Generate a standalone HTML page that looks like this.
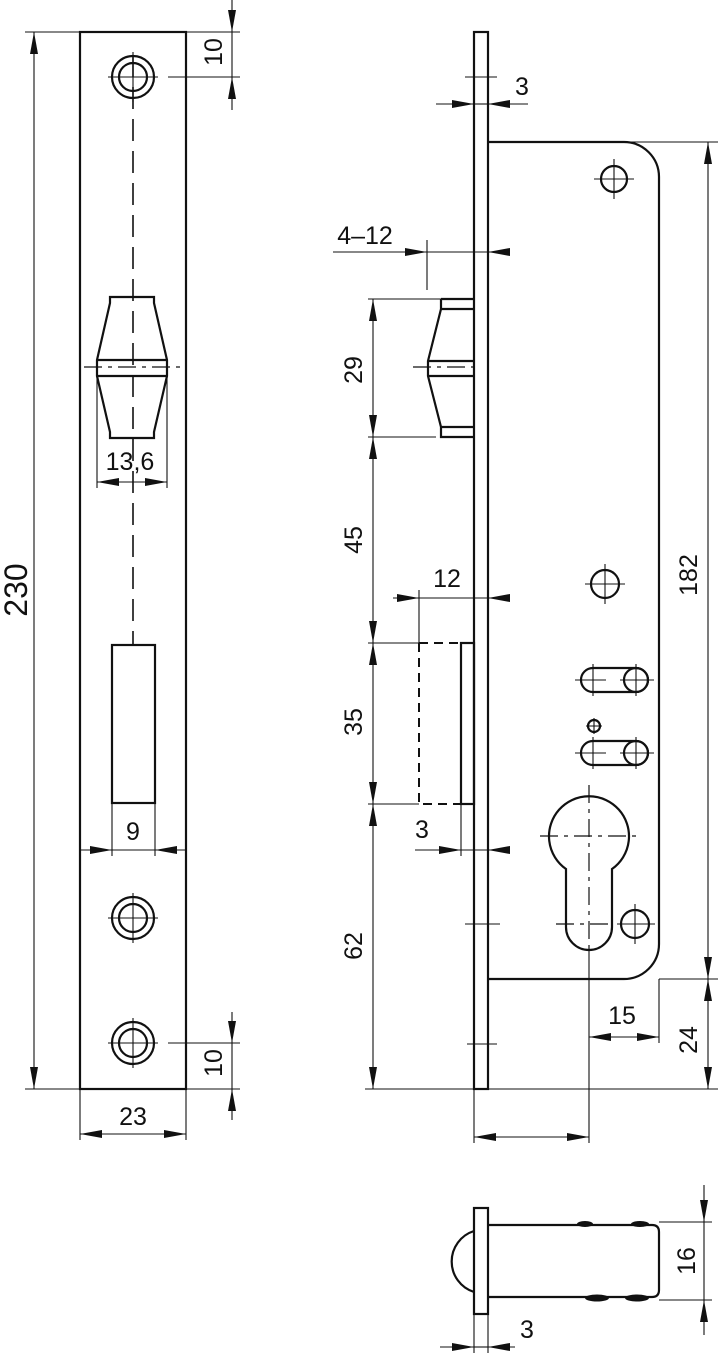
<!DOCTYPE html>
<html><head><meta charset="utf-8"><style>
html,body{margin:0;padding:0;background:#fff}
svg{display:block}
text{font-family:"Liberation Sans",sans-serif;font-size:25px;fill:#111}
</style></head><body>
<svg width="720" height="1355" viewBox="0 0 720 1355" xmlns="http://www.w3.org/2000/svg">
<defs>
<marker id="a" viewBox="0 0 22 8" refX="22" refY="4" markerWidth="22" markerHeight="8" markerUnits="userSpaceOnUse" orient="auto-start-reverse"><path d="M0,0 L22,4 L0,8 z" fill="#111"/></marker>
</defs>
<g fill="none" stroke="#111" stroke-width="2.2">
<rect x="80" y="32" width="106" height="1057"/>
<circle cx="133" cy="77" r="21"/><circle cx="133" cy="77" r="14"/>
<circle cx="133" cy="918" r="21"/><circle cx="133" cy="918" r="14"/>
<circle cx="133" cy="1043" r="21"/><circle cx="133" cy="1043" r="14"/>
<path d="M110,297 L154,297 L154,303 L167,360 L167,376 L154,432 L154,438 L110,438 L110,432 L97,376 L97,360 L110,303 Z"/>
<line x1="97" y1="360" x2="167" y2="360"/><line x1="97" y1="376" x2="167" y2="376"/>
<rect x="112" y="645" width="43" height="158"/>
<rect x="474" y="32" width="14" height="1057"/>
<path d="M488,142 L624,142 A35,35 0 0 1 659,177 L659,944 A35,35 0 0 1 624,979 L488,979"/>
<circle cx="614" cy="179" r="13"/>
<circle cx="605" cy="584" r="14"/>
<rect x="581" y="668" width="67" height="24" rx="12"/>
<circle cx="636" cy="680" r="12"/>
<rect x="581" y="741" width="67" height="24" rx="12"/>
<circle cx="636" cy="753" r="12"/>
<circle cx="594" cy="726" r="6"/>
<circle cx="635" cy="924" r="14"/>
<path d="M566,869 A40,40 0 1 1 612,869 L612,927 A23,23 0 0 1 566,927 Z"/>
<path d="M441,299 L474,299 M441,309 L474,309 M441,299 L441,309 L428,361 L428,376 L441,427 L441,437 L474,437 M441,427 L474,427 M428,361 L474,361 M428,376 L474,376"/>
<rect x="461" y="643" width="13" height="161"/>
<rect x="474" y="1208" width="14" height="106"/>
<path d="M488,1225 L652,1225 Q659,1225 659,1232 L659,1290 Q659,1297 652,1297 L488,1297"/>
<path d="M474,1231 A32,32 0 0 0 474,1292"/>
</g>
<g fill="#111">
<ellipse cx="585" cy="1224" rx="8" ry="3"/><ellipse cx="640" cy="1224" rx="9" ry="3"/>
<ellipse cx="597" cy="1298" rx="12" ry="3.5"/><ellipse cx="637" cy="1298" rx="12" ry="3.5"/>
</g>
<g fill="none" stroke="#111" stroke-width="1.6" stroke-dasharray="22,10">
<line x1="133" y1="55" x2="133" y2="645"/>
</g>
<g fill="none" stroke="#111" stroke-width="2" stroke-dasharray="9,6">
<path d="M419,643 L461,643 M419,643 L419,804 L461,804"/>
</g>
<g fill="none" stroke="#111" stroke-width="1.2" stroke-dasharray="18,6,4,6">
<line x1="84" y1="367" x2="182" y2="367"/>
<line x1="413" y1="367" x2="481" y2="367"/>
<line x1="540" y1="836" x2="642" y2="836"/>
<line x1="589" y1="785" x2="589" y2="950"/>
<line x1="556" y1="924" x2="610" y2="924"/>
</g>
<g fill="none" stroke="#111" stroke-width="1.1">
<path d="M108,77 H158 M133,52 V102 M108,918 H158 M133,893 V943 M108,1043 H158 M133,1018 V1068"/>
<path d="M594,179 H634 M614,159 V199 M585,584 H625 M605,564 V604"/>
<path d="M575,680 H606 M593,664 V696 M620,680 H654 M636,664 V696"/>
<path d="M575,753 H606 M593,737 V769 M620,753 H654 M636,737 V769"/>
<path d="M586,726 H602 M594,718 V734 M617,924 H655 M635,904 V944"/>
<path d="M465,77 H497 M465,924 H500 M467,1044 H497"/>
<path d="M25,32 H80 M25,1089 H80"/>
<line x1="34" y1="32" x2="34" y2="1089" marker-start="url(#a)" marker-end="url(#a)"/>
<path d="M186,32 H240 M168,77 H240"/>
<line x1="232" y1="0" x2="232" y2="32" marker-end="url(#a)"/>
<line x1="232" y1="110" x2="232" y2="77" marker-end="url(#a)"/>
<line x1="232" y1="32" x2="232" y2="77"/>
<path d="M97,376 V488 M167,376 V488"/>
<line x1="97" y1="482" x2="167" y2="482" marker-start="url(#a)" marker-end="url(#a)"/>
<path d="M112,803 V856 M155,803 V856"/>
<line x1="80" y1="850" x2="112" y2="850" marker-end="url(#a)"/>
<line x1="186" y1="850" x2="155" y2="850" marker-end="url(#a)"/>
<line x1="112" y1="850" x2="155" y2="850"/>
<path d="M168,1043 H240 M186,1089 H240"/>
<line x1="232" y1="1012" x2="232" y2="1043" marker-end="url(#a)"/>
<line x1="232" y1="1120" x2="232" y2="1089" marker-end="url(#a)"/>
<line x1="232" y1="1043" x2="232" y2="1089"/>
<path d="M80,1089 V1140 M186,1089 V1140"/>
<line x1="80" y1="1134" x2="186" y2="1134" marker-start="url(#a)" marker-end="url(#a)"/>
<line x1="436" y1="104" x2="474" y2="104" marker-end="url(#a)"/>
<line x1="528" y1="104" x2="488" y2="104" marker-end="url(#a)"/>
<line x1="474" y1="104" x2="488" y2="104"/>
<line x1="333" y1="252" x2="427" y2="252" marker-end="url(#a)"/>
<line x1="510" y1="252" x2="488" y2="252" marker-end="url(#a)"/>
<line x1="427" y1="252" x2="488" y2="252"/>
<path d="M427,240 V290"/>
<path d="M368,299 H441 M368,437 H436 M368,643 H419 M368,804 H419 M365,1089 H718"/>
<line x1="373" y1="299" x2="373" y2="437" marker-start="url(#a)" marker-end="url(#a)"/>
<line x1="373" y1="437" x2="373" y2="643" marker-start="url(#a)" marker-end="url(#a)"/>
<line x1="373" y1="643" x2="373" y2="804" marker-start="url(#a)" marker-end="url(#a)"/>
<line x1="373" y1="804" x2="373" y2="1089" marker-start="url(#a)" marker-end="url(#a)"/>
<line x1="393" y1="598" x2="419" y2="598" marker-end="url(#a)"/>
<line x1="510" y1="598" x2="488" y2="598" marker-end="url(#a)"/>
<line x1="419" y1="598" x2="488" y2="598"/>
<path d="M419,590 V643"/>
<line x1="415" y1="850" x2="461" y2="850" marker-end="url(#a)"/>
<line x1="510" y1="850" x2="488" y2="850" marker-end="url(#a)"/>
<line x1="461" y1="850" x2="488" y2="850"/>
<path d="M461,804 V856"/>
<path d="M624,142 H718 M659,979 H718"/>
<line x1="708" y1="142" x2="708" y2="979" marker-start="url(#a)" marker-end="url(#a)"/>
<line x1="708" y1="979" x2="708" y2="1089" marker-start="url(#a)" marker-end="url(#a)"/>
<path d="M659,979 V1043 M589,950 V1143 M474,1089 V1143"/>
<line x1="589" y1="1037" x2="659" y2="1037" marker-start="url(#a)" marker-end="url(#a)"/>
<line x1="474" y1="1137" x2="589" y2="1137" marker-start="url(#a)" marker-end="url(#a)"/>
<path d="M659,1222 H712 M659,1300 H712 M474,1314 V1353 M488,1314 V1353"/>
<line x1="704" y1="1185" x2="704" y2="1222" marker-end="url(#a)"/>
<line x1="704" y1="1335" x2="704" y2="1300" marker-end="url(#a)"/>
<line x1="704" y1="1222" x2="704" y2="1300"/>
<line x1="440" y1="1347" x2="474" y2="1347" marker-end="url(#a)"/>
<line x1="515" y1="1347" x2="488" y2="1347" marker-end="url(#a)"/>
<line x1="474" y1="1347" x2="488" y2="1347"/>
</g>
<g text-anchor="middle" dominant-baseline="central">
<text x="16" y="590" transform="rotate(-90 16 590)" style="font-size:32px">230</text>
<text x="214" y="52" transform="rotate(-90 214 52)">10</text>
<text x="214" y="1063" transform="rotate(-90 214 1063)">10</text>
<text x="130" y="462">13,6</text>
<text x="133" y="832">9</text>
<text x="133" y="1117">23</text>
<text x="522" y="87">3</text>
<text x="365" y="236">4–12</text>
<text x="354" y="370" transform="rotate(-90 354 370)">29</text>
<text x="354" y="540" transform="rotate(-90 354 540)">45</text>
<text x="354" y="722" transform="rotate(-90 354 722)">35</text>
<text x="354" y="946" transform="rotate(-90 354 946)">62</text>
<text x="447" y="579">12</text>
<text x="422" y="830">3</text>
<text x="689" y="575" transform="rotate(-90 689 575)">182</text>
<text x="622" y="1016">15</text>
<text x="689" y="1040" transform="rotate(-90 689 1040)">24</text>
<text x="687" y="1261" transform="rotate(-90 687 1261)">16</text>
<text x="527" y="1330">3</text>
</g>
</svg>
</body></html>
